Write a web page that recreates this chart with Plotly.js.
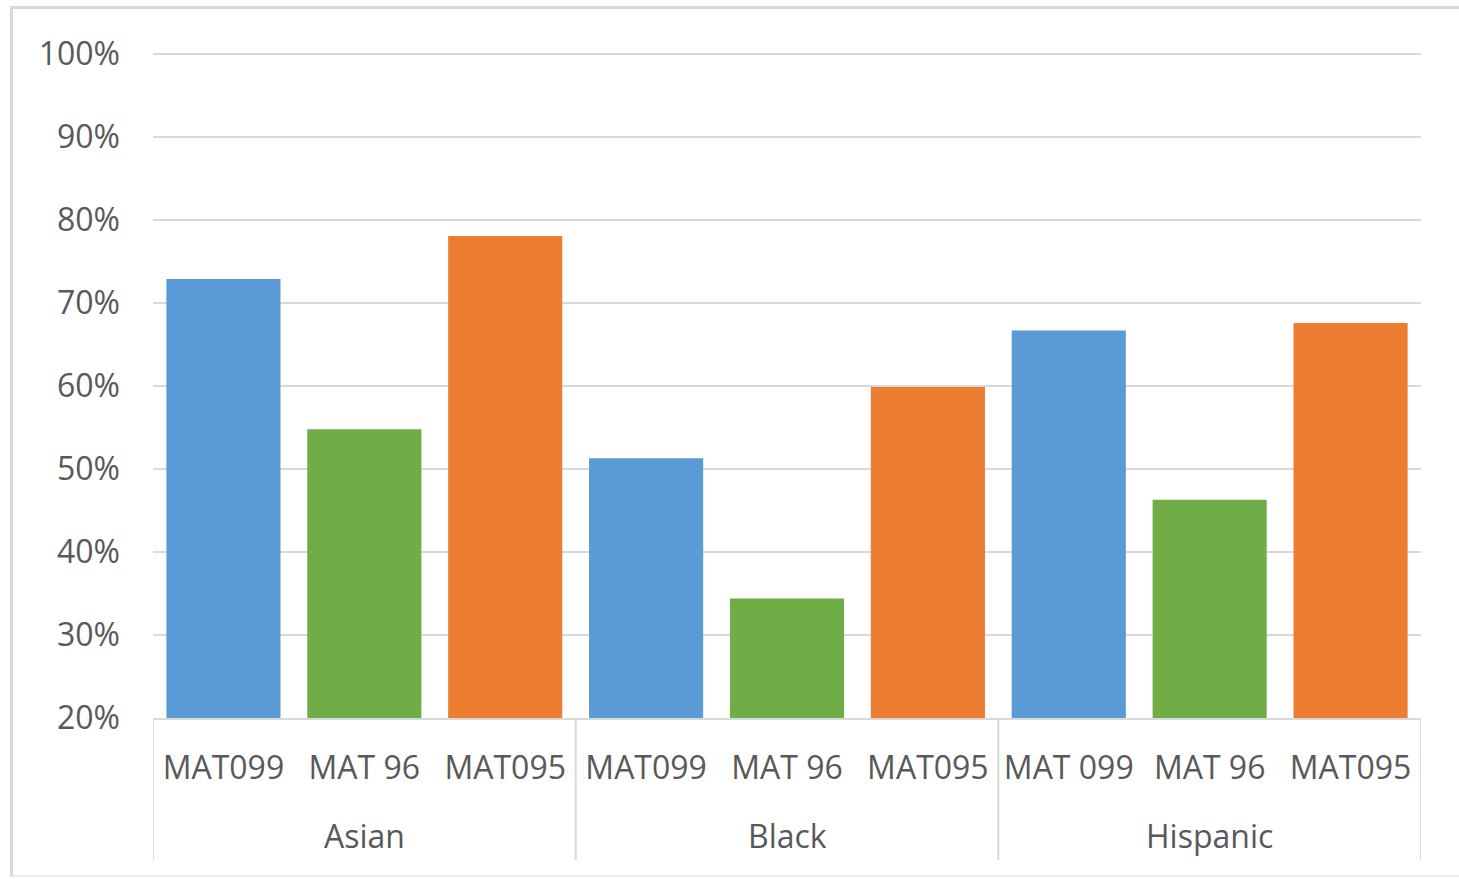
<!DOCTYPE html>
<html>
<head>
<meta charset="utf-8">
<script src="https://cdn.plot.ly/plotly-3.0.1.min.js"></script>
<style>
  html, body { margin: 0; padding: 0; background: #ffffff; }
  #chart { width: 1459px; height: 879px; }
  #frame { position: absolute; left: 10px; top: 6px; width: 1460px; height: 871px;
           border-top: 3px solid #d9d9d9; border-left: 3px solid #d9d9d9; border-bottom: 2px solid #ececec;
           pointer-events: none; box-sizing: border-box; }
</style>
</head>
<body>
<div id="chart"></div>
<div id="frame"></div>
<script>
const groupNames = ["Asian", "Black", "Hispanic"];
const courses = ["MAT099", "MAT 96", "MAT095", "MAT099", "MAT 96", "MAT095", "MAT 099", "MAT 96", "MAT095"];
const values = [72.9, 54.8, 78.1, 51.3, 34.4, 59.9, 66.7, 46.3, 67.6];
const colors = ["#5B9BD5", "#70AD47", "#ED7D31", "#5B9BD5", "#70AD47", "#ED7D31", "#5B9BD5", "#70AD47", "#ED7D31"];
const perGroup = 3;

const positions = courses.map((_, i) => i);

const trace = {
  type: "bar",
  x: positions,
  y: values,
  base: 0,
  marker: { color: colors, line: { width: 0 } },
  hoverinfo: "y"
};

const FONT = "Open Sans, sans-serif";
const TXT = "#595959";
const LINE = "#d9d9d9";

const annotations = groupNames.map((g, gi) => ({
  x: gi * perGroup + (perGroup - 1) / 2,
  xref: "x",
  y: -0.1774,
  yref: "paper",
  text: g,
  showarrow: false,
  xanchor: "center",
  yanchor: "middle",
  font: { family: FONT, size: 32, color: TXT }
}));

const shapes = [];
for (let gi = 0; gi <= groupNames.length; gi++) {
  const xd = gi * perGroup - 0.5;
  shapes.push({
    type: "line", xref: "x", yref: "paper",
    x0: xd, x1: xd, y0: 0, y1: -0.2135,
    line: { color: LINE, width: 2 }
  });
}

const layout = {
  width: 1459,
  height: 879,
  margin: { l: 153, r: 38, t: 53, b: 161 },
  paper_bgcolor: "#ffffff",
  plot_bgcolor: "#ffffff",
  showlegend: false,
  bargap: 0.19,
  font: { family: FONT, size: 32, color: TXT },
  xaxis: {
    range: [-0.5, courses.length - 0.5],
    tickmode: "array",
    tickvals: positions,
    ticktext: courses,
    showline: true,
    linecolor: LINE,
    linewidth: 2,
    showgrid: false,
    zeroline: false,
    ticks: "",
    ticklabelstandoff: 21,
    tickfont: { family: FONT, size: 32, color: TXT },
    automargin: false
  },
  yaxis: {
    range: [20, 100.15],
    dtick: 10,
    tick0: 0,
    ticksuffix: "%",
    showgrid: true,
    gridcolor: LINE,
    gridwidth: 1.5,
    zeroline: false,
    showline: false,
    ticks: "",
    ticklabelstandoff: 32,
    tickfont: { family: FONT, size: 32, color: TXT },
    automargin: false
  },
  annotations: annotations,
  shapes: shapes
};

Plotly.newPlot("chart", [trace], layout, { displayModeBar: false, staticPlot: true });
</script>
</body>
</html>
